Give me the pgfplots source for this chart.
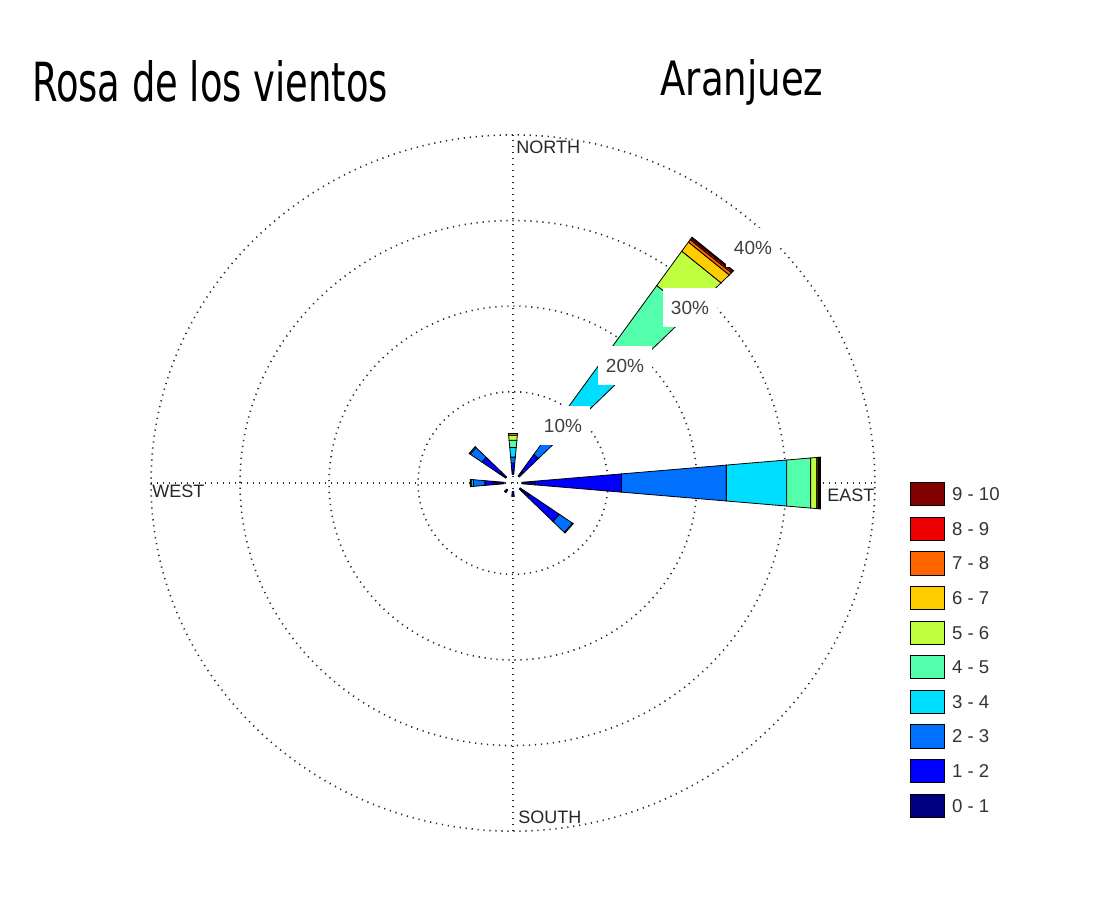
\documentclass[border=0pt]{standalone}
\usepackage{pgfplots}
\pgfplotsset{compat=1.18}
\usepackage{fontspec}
\setmainfont{Liberation Sans}
\newfontfamily\titlefont{DejaVu Sans}
\usepackage{graphicx}
\definecolor{c0}{rgb}{0,0,0.5}
\definecolor{c1}{rgb}{0,0,1}
\definecolor{c2}{rgb}{0,0.44,1}
\definecolor{c3}{rgb}{0,0.87,1}
\definecolor{c4}{rgb}{0.33,1,0.67}
\definecolor{c5}{rgb}{0.75,1,0.25}
\definecolor{c6}{rgb}{1,0.8,0}
\definecolor{c7}{rgb}{1,0.4,0}
\definecolor{c8}{rgb}{0.93,0,0}
\definecolor{c9}{rgb}{0.5,0,0}
\tikzset{mdot/.style={line width=0.8pt, dash pattern=on 0.6pt off 2.4pt, black!85}}
% #1 = compass direction (deg, clockwise from north), #2 = percentage in each speed bin 0-1 ... 9-10
% radial position = 0.67 (centre offset) + cumulative percentage; drawing starts at radius 1.0 (white centre)
\newcommand{\petal}[2]{%
  \pgfmathsetmacro{\aL}{90-#1-5}%
  \pgfmathsetmacro{\aR}{90-#1+5}%
  \xdef\rcum{0.67}%
  \xdef\rlo{1.0}%
  \foreach \v [count=\i from 0] in {#2}{%
    \pgfmathsetmacro{\rhi}{\rcum+\v}%
    \ifdim\v pt>0pt\relax
      \edef\temp{\noexpand\addplot[fill=c\i, draw=black, line width=0.4pt, data cs=polar] coordinates {(\aL,\rlo) (\aL,\rhi) (\aR,\rhi) (\aR,\rlo)} -- cycle;}%
      \temp
      \xdef\rlo{\rhi}%
    \fi
    \xdef\rcum{\rhi}%
  }%
}
\begin{document}
\begin{tikzpicture}
\path (0,0) rectangle (548pt,448.5pt);
\begin{axis}[at={(0,0)}, anchor=south west, scale only axis, width=548pt, height=448.5pt,
  xmin=-57.64, xmax=65.51, ymin=-48.36, ymax=56.43, hide axis, clip=false]
\draw[mdot] (axis cs:0,0) ellipse [x radius=47.48pt, y radius=45.67pt];
\draw[mdot] (axis cs:0,0) ellipse [x radius=91.98pt, y radius=88.47pt];
\draw[mdot] (axis cs:0,0) ellipse [x radius=136.48pt, y radius=131.27pt];
\draw[mdot] (axis cs:0,0) ellipse [x radius=180.98pt, y radius=174.07pt];
\draw[mdot] (axis cs:-40.67,0) -- (axis cs:40.67,0);
\draw[mdot] (axis cs:0,-40.67) -- (axis cs:0,40.67);
\petal{90}{1.8,9.77,11.83,6.8,2.7,0.7,0.15,0.1,0.1,0.05}
\petal{40}{1.0,2.4,4.6,9.0,10.5,4.9,1.3,0.35,0.2,0.15}
\petal{0}{0.85,0.82,0.7,1.13,0.85,0.6,0.2,0,0,0}
\petal{310}{1.2,2.4,1.6,0.15,0,0,0,0,0,0}
\petal{270}{1.6,0.9,1.3,0.25,0.1,0,0,0,0,0}
\petal{130}{1.6,4.1,1.8,0.1,0,0,0,0,0,0}
\petal{180}{0.9,0,0,0,0,0,0,0,0,0}
\petal{220}{0.7,0,0,0,0,0,0,0,0,0}
\end{axis}
% radial labels with white background
\foreach \p/\x/\y in {10/281.5/235.75, 20/312.5/265.75, 30/345/294.75, 40/376.5/324.5}{
  \node[fill=white, inner sep=0, minimum width=27pt, minimum height=19.5pt, text=black!75,
        font=\fontsize{9.5}{10}\selectfont] at (\x pt,\y pt) {\p\%};
}
% compass labels
\begin{scope}[every node/.style={anchor=west, inner sep=0, text=black!85, font=\fontsize{9}{10}\selectfont}]
\node at (258pt,375pt) {NORTH};
\node at (259pt,40pt) {SOUTH};
\node at (76pt,202.75pt) {WEST};
\node at (413.5pt,201pt) {EAST};
\end{scope}
% legend
\foreach \k in {0,...,9}{
  \pgfmathsetmacro{\yt}{207.15-(9-\k)*17.3}
  \pgfmathtruncatemacro{\kp}{\k+1}
  \draw[fill=c\k, line width=0.5pt] (455pt,\yt pt) rectangle (472pt,\yt pt-11.65pt);
  \node[anchor=west, inner sep=0, text=black!80, font=\fontsize{9.3}{10}\selectfont] at (475.85pt,\yt pt-5.825pt) {\k{} - \kp};
}
% titles
\node[anchor=base west, inner sep=0] at (15.85pt,397.65pt) {\resizebox{178pt}{20.5pt}{\titlefont Rosa de los vientos}};
\node[anchor=base west, inner sep=0] at (330pt,400.5pt) {\resizebox{81.5pt}{18pt}{\titlefont Aranjuez}};
\end{tikzpicture}
\end{document}
